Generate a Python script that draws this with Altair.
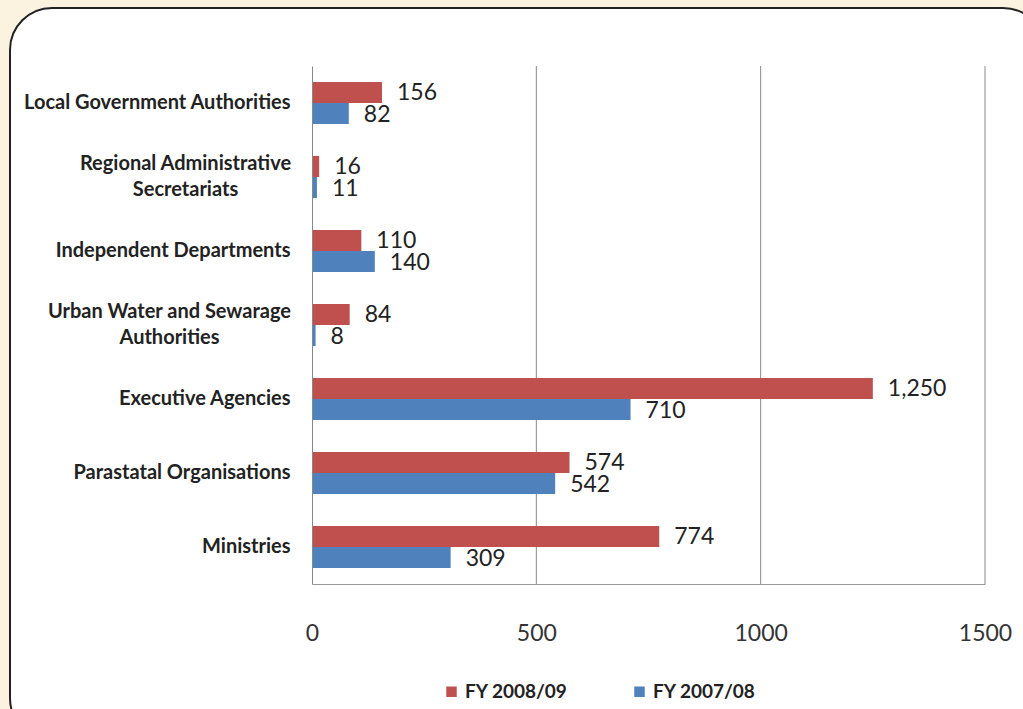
import altair as alt
import pandas as pd

categories = [
    "Local Government Authorities",
    "Regional Administrative|Secretariats",
    "Independent Departments",
    "Urban Water and Sewarage|Authorities",
    "Executive Agencies",
    "Parastatal Organisations",
    "Ministries",
]
series = ["FY 2008/09", "FY 2007/08"]
fy0809 = [156, 16, 110, 84, 1250, 574, 774]
fy0708 = [82, 11, 140, 8, 710, 542, 309]
x_ticks = [0, 500, 1000, 1500]

rows = []
for c, a, b in zip(categories, fy0809, fy0708):
    rows.append({"category": c, "series": series[0], "value": a})
    rows.append({"category": c, "series": series[1], "value": b})
df = pd.DataFrame(rows)
grid_df = pd.DataFrame({"tick": x_ticks[1:]})

FONT = "Lato"
W, H = 673, 518
PL, PT = 312, 66

x_scale = alt.Scale(domain=[0, 1500], nice=False)

TWO_LINE = "indexof(datum.value, '|') >= 0"

y_enc = alt.Y(
    "category:N",
    sort=categories,
    title=None,
    scale=alt.Scale(paddingInner=0.43, paddingOuter=0.215),
    axis=alt.Axis(
        labelExpr="split(datum.label, '|')",
        labelFont=FONT,
        labelFontSize=20,
        labelFontWeight="bold",
        labelColor="#222222",
        labelLineHeight=26,
        labelAlign={"condition": {"test": TWO_LINE, "value": "center"}, "value": "right"},
        labelPadding={
            "condition": [
                {"test": "indexof(datum.value, 'Regional') >= 0", "value": 127},
                {"test": "indexof(datum.value, 'Urban') >= 0", "value": 143},
            ],
            "value": 22,
        },
        labelOffset={"condition": {"test": TWO_LINE, "value": -13}, "value": 0},
        ticks=False,
        domainColor="#888888",
        labelLimit=400,
        zindex=1,
    ),
)
x_enc = alt.X(
    "value:Q",
    title=None,
    scale=x_scale,
    axis=alt.Axis(
        values=x_ticks,
        labelFont=FONT,
        labelFontSize=23,
        labelColor="#333333",
        labelPadding=38,
        labelFlush=False,
        ticks=False,
        grid=False,
        domainColor="#999999",
        format="d",
        zindex=1,
    ),
)
yoff = alt.YOffset("series:N", sort=series)

base = alt.Chart(df)

frame = alt.Chart(alt.Data(values=[{"a": 1}])).mark_rect(
    fill="white", stroke="#222222", strokeWidth=2, cornerRadius=42
).encode(
    x=alt.value(10 - PL),
    x2=alt.value(1045 - PL),
    y=alt.value(8 - PT),
    y2=alt.value(740 - PT),
)

grid = alt.Chart(grid_df).mark_rule(color="#8a8a8a", strokeWidth=1).encode(
    x=alt.X("tick:Q", scale=x_scale),
)

bars = base.mark_bar(stroke=None).encode(
    y=y_enc,
    x=x_enc,
    yOffset=yoff,
    color=alt.Color(
        "series:N",
        sort=series,
        scale=alt.Scale(domain=series, range=["#C0504D", "#4F81BD"]),
        legend=alt.Legend(
            title=None,
            orient="none",
            direction="horizontal",
            legendX=130,
            legendY=616,
            symbolType="square",
            symbolSize=110,
            symbolStrokeWidth=0,
            labelFont=FONT,
            labelFontSize=19,
            labelFontWeight="bold",
            labelColor="#222222",
            columnPadding=62,
            labelOffset=4,
        ),
    ),
)

labels = base.mark_text(
    align="left", baseline="middle", dx=15, dy=1, font=FONT, fontSize=23, color="#222222"
).encode(
    y=alt.Y("category:N", sort=categories),
    x=alt.X("value:Q"),
    yOffset=yoff,
    text=alt.Text("value:Q", format=","),
)

chart = (
    alt.layer(frame, grid, bars, labels)
    .properties(
        width=W,
        height=H,
        autosize=alt.AutoSizeParams(type="none"),
        padding={"left": PL, "top": PT, "right": 1023 - PL - W, "bottom": 709 - PT - H},
        background="#FBF3E0",
    )
    .configure_view(stroke=None)
)

chart.save("out.html", embed_options={"renderer": "svg", "actions": False})
